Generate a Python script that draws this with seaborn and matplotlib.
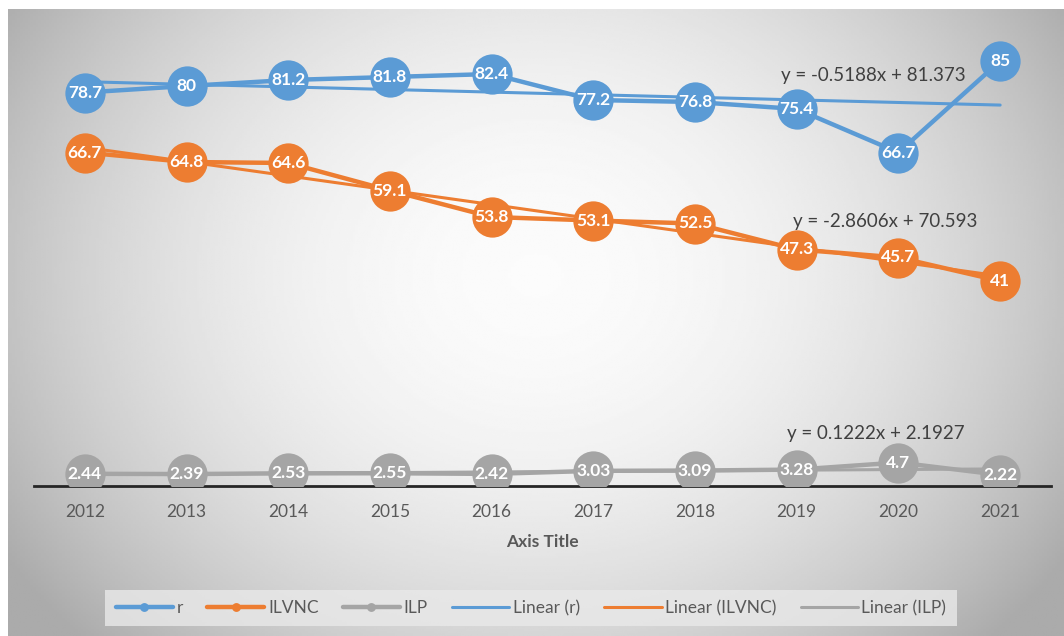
import numpy as np
import pandas as pd
import seaborn as sns
import matplotlib.pyplot as plt

# Chart data
years = [2012, 2013, 2014, 2015, 2016, 2017, 2018, 2019, 2020, 2021]
r_vals = [78.7, 80, 81.2, 81.8, 82.4, 77.2, 76.8, 75.4, 66.7, 85]
ilvnc_vals = [66.7, 64.8, 64.6, 59.1, 53.8, 53.1, 52.5, 47.3, 45.7, 41]
ilp_vals = [2.44, 2.39, 2.53, 2.55, 2.42, 3.03, 3.09, 3.28, 4.7, 2.22]
series_names = ["r", "ILVNC", "ILP"]
colors = ["#5B9BD5", "#ED7D31", "#A5A5A5"]

sns.set_style("white")
plt.rcParams['font.family'] = ['Lato', 'DejaVu Sans']

df = pd.DataFrame({"year": years, "r": r_vals, "ILVNC": ilvnc_vals, "ILP": ilp_vals})

fig = plt.figure(figsize=(10.64, 6.36), dpi=100)

# Gradient background of the chart area
bg = fig.add_axes([8 / 1064, 0, 1 - 8 / 1064, 1 - 9 / 636], zorder=-10)
gx, gy = np.meshgrid(np.linspace(-1, 1, 400), np.linspace(-1, 1, 300))
dist = np.sqrt((gx / 1.0) ** 2 + ((gy + 0.15) / 1.4) ** 2)
shade = 0.985 - 0.22 * np.clip(dist, 0, 1.2) ** 2
bg.imshow(shade, cmap="gray", vmin=0, vmax=1, aspect="auto", extent=[0, 1, 0, 1])
bg.axis("off")

ax = fig.add_axes([34 / 1064, 150 / 636, (1051 - 34) / 1064, (486 - 36) / 636])
ax.set_facecolor("none")

x_idx = np.arange(1, len(years) + 1)
eq_pos = [(873, 75), (885, 221), (876, 434)]
for name, col, (px, py) in zip(series_names, colors, eq_pos):
    sns.lineplot(data=df, x="year", y=name, ax=ax, color=col, linewidth=3.2,
                 marker="o", markersize=29, markeredgewidth=0, label=name, zorder=3)
    # linear trendline (Excel style, x = 1..n)
    sns.regplot(x=df["year"], y=df[name], ax=ax, scatter=False, ci=None,
                color=col, line_kws={"linewidth": 2.2, "zorder": 2},
                label="Linear (" + name + ")")
    slope, icpt = np.polyfit(x_idx, df[name], 1)
    sign = "+" if icpt >= 0 else "-"
    ndec = 5 - len(str(int(abs(icpt))))
    fig.text(px / 1064, 1 - py / 636, f"y = {slope:.4f}x {sign} {abs(icpt):.{ndec}f}",
             ha="center", va="center", fontsize=13.5, color="#404040")
    for yr, v in zip(df["year"], df[name]):
        ax.text(yr, v, f"{v:g}", ha="center", va="center", color="white",
                fontsize=12.5, fontweight="bold", zorder=5)

ax.set_xlim(2011.5, 2021.5)
ax.set_ylim(0, 90)
ax.set_xticks(years)
ax.set_xticklabels([str(y) for y in years])
ax.tick_params(axis="x", length=0, pad=13, labelsize=12.5, labelcolor="#595959")
ax.set_yticks([])
ax.set_ylabel("")
ax.set_xlabel("Axis Title", fontsize=12.5, fontweight="bold", color="#595959", labelpad=10)
for s in ["top", "left", "right"]:
    ax.spines[s].set_visible(False)
ax.spines["bottom"].set_color("#262626")
ax.spines["bottom"].set_linewidth(2)

handles, labels = ax.get_legend_handles_labels()
ax.get_legend().remove()
order = [labels.index(n) for n in series_names] + [labels.index("Linear (" + n + ")") for n in series_names]
leg = fig.legend([handles[i] for i in order], [labels[i] for i in order],
                 loc="center", bbox_to_anchor=(531 / 1064, 1 - 608 / 636), ncol=6,
                 fontsize=12.5, markerscale=0.22, handlelength=3.3, handletextpad=0.2,
                 columnspacing=1.4, frameon=True, fancybox=False, borderpad=0.6)
leg.get_frame().set_facecolor("#e9e9e9")
leg.get_frame().set_edgecolor("none")
for t in leg.get_texts():
    t.set_color("#595959")

fig.savefig("out.png", dpi=100)
